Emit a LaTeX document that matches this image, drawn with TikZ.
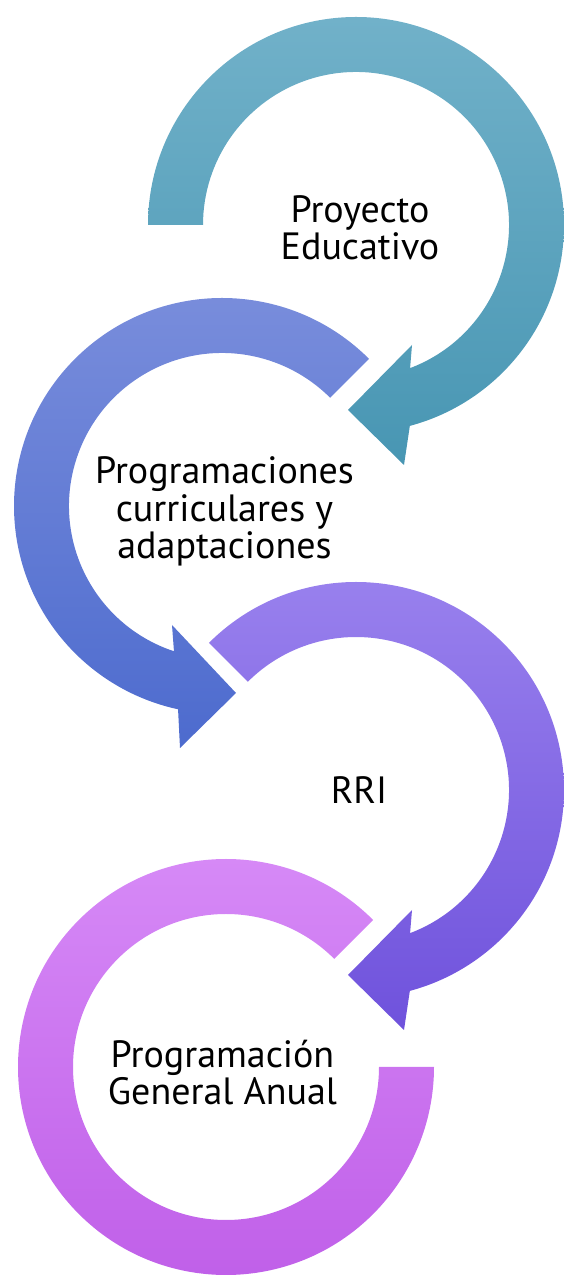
\documentclass[tikz,border=0pt]{standalone}
\usepackage{fontspec}
\setmainfont{PT Sans}
\definecolor{tealT}{HTML}{71B1C9}
\definecolor{tealB}{HTML}{4896B3}
\definecolor{blueT}{HTML}{7A8EDC}
\definecolor{blueB}{HTML}{4D6BCE}
\definecolor{purpT}{HTML}{9A82EE}
\definecolor{purpB}{HTML}{6F52DC}
\definecolor{pinkT}{HTML}{D78BF7}
\definecolor{pinkB}{HTML}{BF5EE8}
\tikzset{
  lbl/.style={font=\fontsize{38}{37.5}\selectfont, align=center, inner sep=0pt, text=black},
  ringshade/.style 2 args={top color=#1, bottom color=#2, draw=none}
}
\begin{document}
\begin{tikzpicture}[x=1pt,y=1pt]
\useasboundingbox (0,0) rectangle (563,1275);
% --- teal arrow (Proyecto Educativo)
\begin{scope}[shift={(356,1050)}]
\shade[ringshade={tealT}{tealB}] (180:208) arc[start angle=180,end angle=-75,radius=208]
  -- (48,-240) -- (-8,-185) -- (56,-120) -- (-69.3:153)
  arc[start angle=-69.3,end angle=180,radius=153] -- cycle;
\end{scope}
% --- blue arrow (Programaciones)
\begin{scope}[shift={(222,769)}]
\shade[ringshade={blueT}{blueB}] (45:208) arc[start angle=45,end angle=257.8,radius=208]
  -- (-42,-242) -- (14,-187) -- (-50,-119) -- (251.7:153)
  arc[start angle=251.7,end angle=45,radius=153] -- cycle;
\end{scope}
% --- purple arrow (RRI)
\begin{scope}[shift={(356,485)}]
\shade[ringshade={purpT}{purpB}] (135:208) arc[start angle=135,end angle=-75,radius=208]
  -- (48,-240) -- (-8,-185) -- (56,-120) -- (-69.3:153)
  arc[start angle=-69.3,end angle=135,radius=153] -- cycle;
\end{scope}
% --- pink ring (Programacion General Anual)
\begin{scope}[shift={(226,208)}]
\shade[ringshade={pinkT}{pinkB}] (45:208) arc[start angle=45,end angle=360,radius=208]
  -- (0:153) arc[start angle=360,end angle=45,radius=153] -- cycle;
\end{scope}
% --- labels
\node[lbl] (t1) at (360,1047) {Proyecto\\Educativo};
\node[lbl] (t2) at (224.5,763.5) {Programaciones\\curriculares y\\adaptaciones};
\node[lbl] (t3) at (359,485) {RRI};
\node[lbl] (t4) at (222.5,202.5) {Programación\\General Anual};
\end{tikzpicture}
\end{document}
